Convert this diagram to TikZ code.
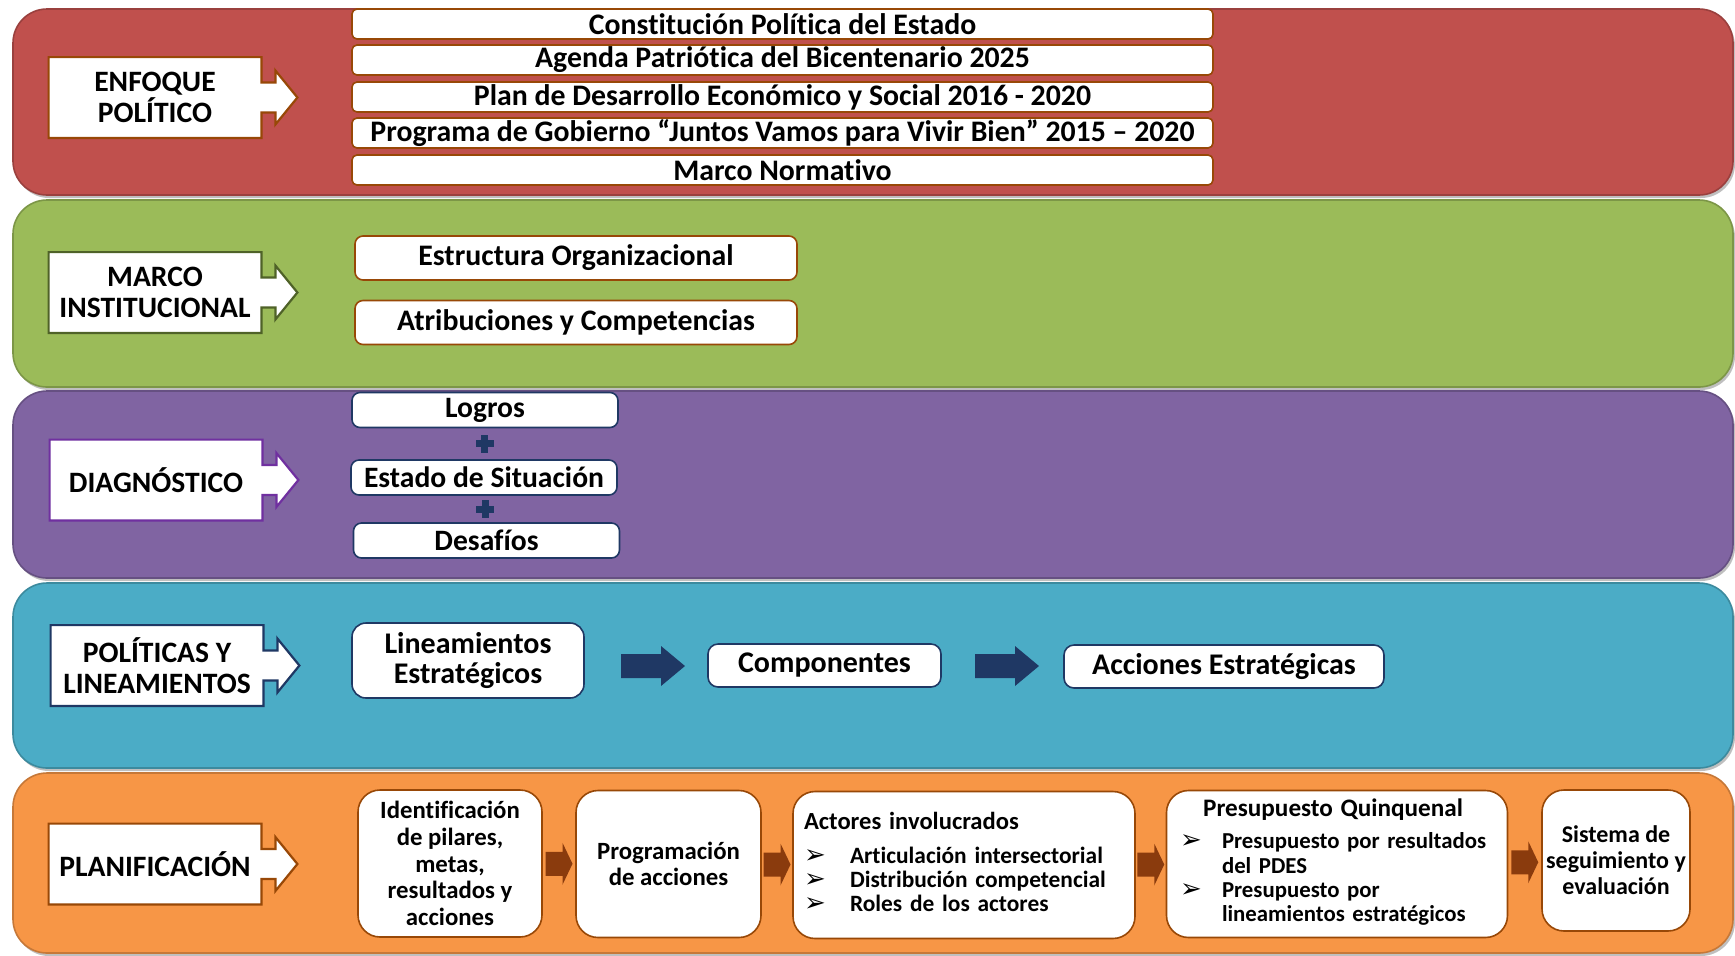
\documentclass[tikz,border=0pt]{standalone}
\usepackage{fontspec}
\setmainfont{Carlito}[Ligatures=NoCommon]
\newfontfamily\symfont{DejaVu Sans}
\usetikzlibrary{calc}

\definecolor{bandred}{HTML}{C0504D}
\definecolor{bandgreen}{HTML}{9BBB59}
\definecolor{bandpurple}{HTML}{8064A2}
\definecolor{bandblue}{HTML}{4BACC6}
\definecolor{bandorange}{HTML}{F79646}
\definecolor{rust}{HTML}{984807}
\definecolor{darkolive}{HTML}{4F6228}
\definecolor{lblviolet}{HTML}{7030A0}
\definecolor{navyblue}{HTML}{1F3864}
\definecolor{arrbrown}{HTML}{8A3B0D}

\pgfdeclarelayer{bands}
\pgfdeclarelayer{frames}
\pgfsetlayers{bands,frames,main}

\newcommand{\bul}[1]{\makebox[#1][l]{\symfont\fontsize{13}{11}\selectfont ➢}}

% label box with the small arrow on its right side
\newcommand{\tagbox}[2]{%
  \begin{pgfonlayer}{frames}
    \draw[tagframe=#2] (#1.north west) -- (#1.north east) -- ($(#1.east)+(0,-15)$)
      -- ++(14,0) -- ++(0,-12) -- ($(#1.east)+(36,0)$) -- ($(#1.east)+(14,27)$)
      -- ++(0,-12) -- ($(#1.east)+(0,15)$) -- (#1.south east) -- (#1.south west) -- cycle;
  \end{pgfonlayer}}

\tikzset{
  band/.style={fill=#1, draw=#1!80!black, line width=0.8pt, rounded corners=17pt,
    preaction={fill=black, opacity=0.25, transform canvas={xshift=1pt, yshift=-1.5pt}}},
  tag/.style={minimum width=106pt, minimum height=40pt, inner sep=0pt, align=center,
    font=\bfseries\fontsize{14.8}{15.5}\selectfont},
  tagframe/.style={draw=#1, fill=white, line width=1.1pt},
  row/.style={draw=#1, fill=white, line width=0.8pt, inner sep=0pt, align=center},
  redrow/.style={row=rust, minimum width=430.5pt, minimum height=15pt, rounded corners=2.5pt,
    font=\bfseries\fontsize{14.9}{15}\selectfont},
  greenrow/.style={row=rust, minimum width=221pt, minimum height=22pt, rounded corners=4pt,
    font=\bfseries\fontsize{14.9}{15}\selectfont},
  purplerow/.style={row=navyblue, minimum width=133pt, minimum height=17.5pt, rounded corners=4pt,
    font=\bfseries\fontsize{14.8}{15}\selectfont},
  bluerow/.style={row=navyblue, minimum height=21.5pt, rounded corners=5pt,
    font=\bfseries\fontsize{15}{15}\selectfont},
  planbox/.style={row=rust, minimum height=73.5pt, rounded corners=11pt,
    font=\bfseries\fontsize{12.4}{13.3}\selectfont},
  pics/navyarr/.style={code={
    \fill[navyblue] (-32,-12) -- (8,-12) -- (8,-20) -- (32,0) -- (8,20) -- (8,12) -- (-32,12) -- cycle;}},
  pics/brownarr/.style={code={
    \fill[arrbrown] (-13.5,-12) -- (3.5,-12) -- (3.5,-21) -- (13.5,0) -- (3.5,21) -- (3.5,12) -- (-13.5,12) -- cycle;}},
  pics/plusmark/.style={code={
    \fill[navyblue] (-9,-3.5) rectangle (9,3.5);
    \fill[navyblue] (-3.5,-9) rectangle (3.5,9);}},
}

\begin{document}
\begin{tikzpicture}[x=0.5pt, y=-0.5pt]
\useasboundingbox (0,0) rectangle (1735,955);

\begin{pgfonlayer}{bands}
  \draw[band=bandred] (13,9) rectangle (1733,195);
  \draw[band=bandgreen] (13,200) rectangle (1733,387);
  \draw[band=bandpurple] (13,391) rectangle (1733,578);
  \draw[band=bandblue] (13,583) rectangle (1733,768);
  \draw[band=bandorange] (13,773) rectangle (1733,953);
\end{pgfonlayer}

% enfoque politico
\node[tag] (enf) at (155,97.5) {ENFOQUE\\POLÍTICO};
\tagbox{enf}{rust}
\node[redrow] (cpe) at (782.5,24) {Constitución Política del Estado};
\node[redrow] (agenda) at (782.5,60) {Agenda Patriótica del Bicentenario 2025};
\node[redrow] (pdes) at (782.5,97) {Plan de Desarrollo Económico y Social 2016 - 2020};
\node[redrow] (prog) at (782.5,133) {Programa de Gobierno “Juntos Vamos para Vivir Bien” 2015 – 2020};
\node[redrow] (norm) at (782.5,170) {Marco Normativo};

% marco institucional
\node[tag] (inst) at (155,292.5) {MARCO\\INSTITUCIONAL};
\tagbox{inst}{darkolive}
\node[greenrow] (estr) at (576,258) {Estructura Organizacional};
\node[greenrow] (atri) at (576,322.5) {Atribuciones y Competencias};

% diagnostico
\node[tag] (diag) at (156,480) {DIAGNÓSTICO};
\tagbox{diag}{lblviolet}
\node[purplerow] (logros) at (485,410) {Logros};
\node[purplerow] (estado) at (484,477.5) {Estado de Situación};
\node[purplerow] (desaf) at (486.5,540.5) {Desafíos};
\pic at ($(logros.south)!0.5!(estado.north)$) {plusmark};
\pic at ($(estado.south)!0.5!(desaf.north)$) {plusmark};

% politicas y lineamientos
\node[tag] (pol) at (157,665.5) {POLÍTICAS Y\\LINEAMIENTOS};
\tagbox{pol}{navyblue}
\node[bluerow, minimum width=116pt, minimum height=37.5pt, rounded corners=7pt] (lin) at (468,660.5) {Lineamientos\\Estratégicos};
\node[bluerow, minimum width=116.5pt] (comp) at (824.5,665.5) {Componentes};
\node[bluerow, minimum width=160pt] (acc) at (1224,666.5) {Acciones Estratégicas};
\pic at (653,666) {navyarr};
\pic at (1007,666) {navyarr};

% planificacion
\node[tag] (plan) at (155,864) {PLANIFICACIÓN};
\tagbox{plan}{rust}
\node[planbox, minimum width=92pt] (ident) at (450,863.5) {Identificación\\de pilares,\\metas,\\resultados y\\acciones};
\node[planbox, minimum width=92.5pt] (progr) at (668.5,864) {Programación\\de acciones};
\node[planbox, minimum width=171pt, text width=160pt, align=left, font=\bfseries\fontsize{11.7}{12}\selectfont] (act) at (964,865) {%
  \begin{tabular}{@{}l@{}}
  \fontsize{12.3}{13}\selectfont Actores involucrados\\[5pt]
  \bul{23pt}Articulación intersectorial\\
  \bul{23pt}Distribución competencial\\
  \bul{23pt}Roles de los actores
  \end{tabular}};
\node[planbox, minimum width=170.5pt, text width=157pt, align=left, font=\bfseries\fontsize{11.4}{12.2}\selectfont] (pres) at (1337,864) {%
  \begin{tabular}{@{}l@{}l@{}}
  \multicolumn{2}{@{}c@{}}{\fontsize{12.6}{13}\selectfont Presupuesto Quinquenal}\\[4pt]
  \bul{21pt} & Presupuesto por resultados\\
       & del PDES\\
  \bul{21pt} & Presupuesto por\\
       & lineamientos estratégicos
  \end{tabular}};
\node[planbox, minimum width=74pt, minimum height=70.5pt, font=\bfseries\fontsize{12}{13}\selectfont] (sist) at (1616,860.5) {Sistema de\\seguimiento y\\evaluación};
\pic at ($(ident.east)!0.5!(progr.west)$) {brownarr};
\pic at ($(progr.east)!0.5!(act.west)$) {brownarr};
\pic at ($(act.east)!0.5!(pres.west)$) {brownarr};
\pic at ($(pres.east)!0.5!(sist.west)$) {brownarr};
\end{tikzpicture}
\end{document}
